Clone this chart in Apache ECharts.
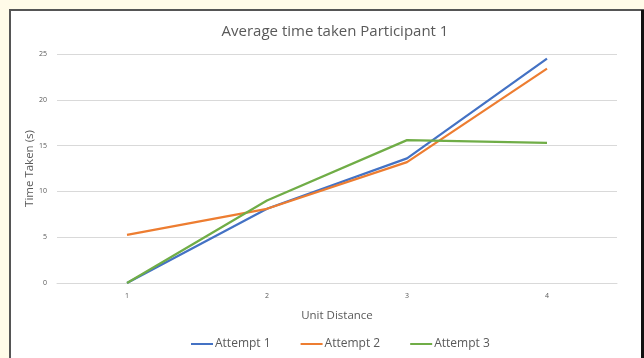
<!DOCTYPE html>
<html><head><meta charset="utf-8">
<script src="https://cdn.jsdelivr.net/npm/echarts@6/dist/echarts.min.js"></script>
<style>html,body{margin:0;padding:0;background:#fffbe8;}#c{width:644px;height:358px;}</style>
</head><body><div id="c"></div>
<script>
const categories = ['1', '2', '3', '4'];
const attempt1 = [0, 8.1, 13.6, 24.5];
const attempt2 = [5.25, 8.1, 13.2, 23.4];
const attempt3 = [0, 9.0, 15.6, 15.3];
const seriesNames = ['Attempt 1', 'Attempt 2', 'Attempt 3'];
const colors = ['#4472C4', '#ED7D31', '#70AD47'];
const FONT = '"Open Sans", "Noto Sans", sans-serif';
const chart = echarts.init(document.getElementById('c'));
chart.setOption({
  backgroundColor: '#fffbe8',
  animation: false,
  graphic: [
    { type: 'rect', z: -10, shape: { x: 10, y: 10, width: 640, height: 360 }, style: { fill: '#ffffff', stroke: '#555555', lineWidth: 2 } },
    { type: 'rect', z: -9, shape: { x: 641, y: 10, width: 3, height: 360 }, style: { fill: '#111111' } }
  ],
  title: {
    text: 'Average time taken Participant 1', left: 330, top: 19, textAlign: 'center',
    textStyle: { fontFamily: FONT, fontSize: 15, fontWeight: 'normal', color: '#595959' }
  },
  legend: {
    data: seriesNames, top: 333, left: 186, itemWidth: 22, itemGap: 30,
    textStyle: { fontFamily: FONT, fontSize: 12, color: '#595959', padding: [0, 0, 0, -3] }, icon: 'rect', itemHeight: 2
  },
  grid: { left: 57, right: 27, top: 54, bottom: 75 },
  xAxis: {
    type: 'category', data: categories, boundaryGap: true,
    name: 'Unit Distance', nameLocation: 'middle', nameGap: 27,
    nameTextStyle: { fontFamily: FONT, fontSize: 11.5, color: '#595959' },
    axisLine: { lineStyle: { color: '#d9d9d9', width: 1 } },
    axisTick: { show: false },
    axisLabel: { fontFamily: FONT, fontSize: 7, color: '#595959', margin: 9 }
  },
  yAxis: {
    type: 'value', min: 0, max: 25, interval: 5,
    name: 'Time Taken (s)', nameLocation: 'middle', nameGap: 21, nameRotate: 90, nameMoveOverlap: false,
    nameTextStyle: { fontFamily: FONT, fontSize: 11.5, color: '#595959' },
    axisLine: { show: false }, axisTick: { show: false },
    axisLabel: { fontFamily: FONT, fontSize: 7, color: '#595959', margin: 10 },
    splitLine: { lineStyle: { color: '#d9d9d9', width: 1 } }
  },
  series: [attempt1, attempt2, attempt3].map((d, i) => ({
    name: seriesNames[i], type: 'line', data: d, symbol: 'none',
    lineStyle: { color: colors[i], width: 2.25 }, itemStyle: { color: colors[i] }
  }))
});
</script></body></html>
